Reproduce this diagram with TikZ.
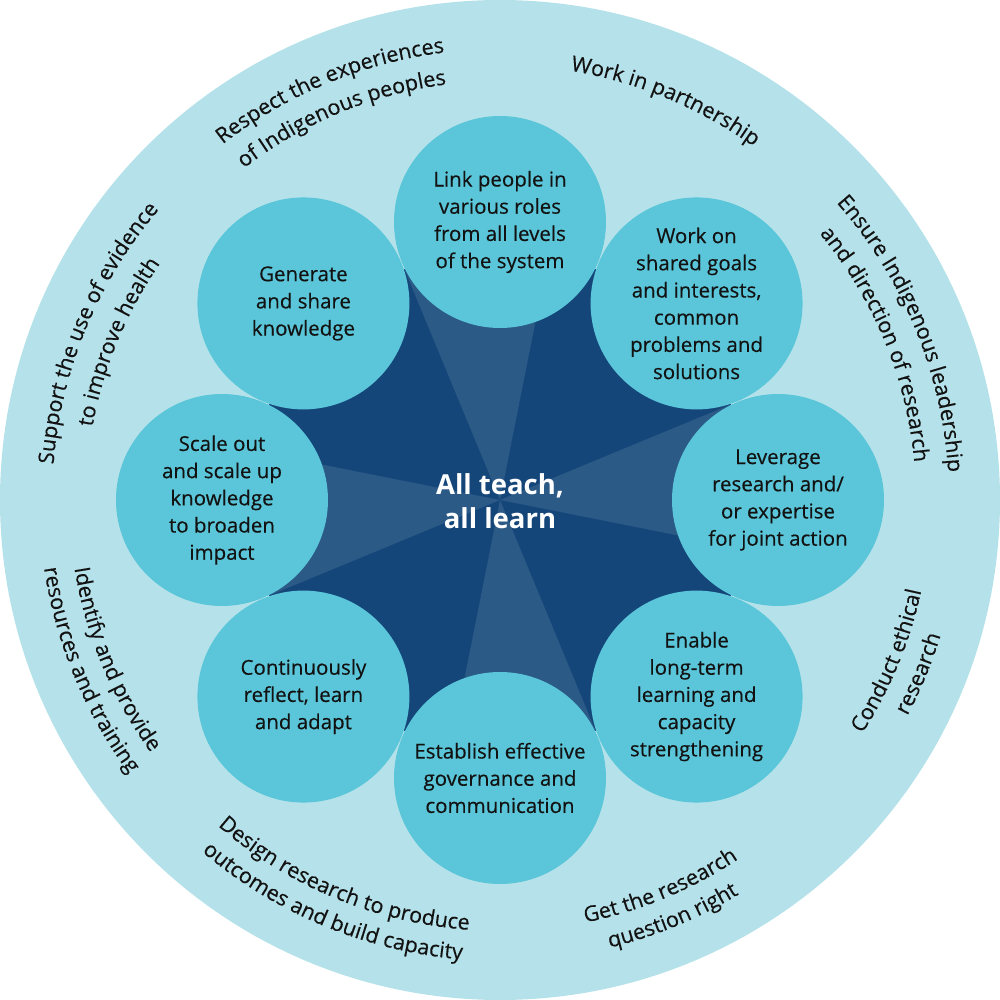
\documentclass[tikz,border=0pt]{standalone}
\usepackage{fontspec}
\setmainfont{Open Sans}
\newfontfamily\medfam{Open Sans}[FakeBold=0.35]
\usetikzlibrary{decorations.text}
\definecolor{ring}{HTML}{B5E2EA}
\definecolor{bubble}{HTML}{5BC6D9}
\definecolor{navy}{HTML}{15467A}
\definecolor{navylt}{HTML}{2C5A86}
\definecolor{ink}{HTML}{121212}
\newcommand{\bfs}{\medfam\fontsize{20.5}{27.2}\selectfont}
\newcommand{\ofs}{\medfam\fontsize{21.5}{26}\selectfont}
\newcommand{\toparc}[3]{%
  \path[decorate, decoration={text along path, text align=center, text color=ink, text={|\ofs|#3}}]
    (#1+50:#2) arc[start angle=#1+50, end angle=#1-50, radius=#2];}
\newcommand{\botarc}[3]{%
  \path[decorate, decoration={text along path, text align=center, text color=ink, text={|\ofs|#3}}]
    (#1-50:#2) arc[start angle=#1-50, end angle=#1+50, radius=#2];}
\begin{document}
\begin{tikzpicture}[x=1pt,y=1pt,
  bub/.style={circle, fill=bubble, minimum size=212pt, inner sep=0pt, align=center, text=ink, font=\bfs},
  hubtext/.style={text=white, align=center, font=\fontsize{27.5}{34}\selectfont\bfseries}]
\useasboundingbox (-500,-500) rectangle (500,500);
\fill[ring] (0,0) circle[radius=500];
% star
\fill[navy] (0:200) -- (22.5:250) -- (45:200) -- (67.5:250) -- (90:200) -- (112.5:250) -- (135:200) -- (157.5:250) -- (180:200) -- (202.5:250) -- (225:200) -- (247.5:250) -- (270:200) -- (292.5:250) -- (315:200) -- (337.5:250) -- cycle;
\foreach \a in {0,90,180,270}
  \fill[navylt] (0,0) -- (\a-11.25:215) -- (\a:200) -- (\a+22.5:250) -- cycle;
% bubbles
\node[bub] (b1) at (90:278) {Link people in\\various roles\\from all levels\\of the system};
\node[bub] (b2) at (45:278) {Work on\\shared goals\\and interests,\\common\\problems and\\solutions};
\node[bub] (b3) at (0:278) {Leverage\\research and/\\or expertise\\for joint action};
\node[bub] (b4) at (-45:278) {Enable\\long-term\\learning and\\capacity\\strengthening};
\node[bub] (b5) at (-90:278) {Establish effective\\governance and\\communication};
\node[bub] (b6) at (-135:278) {Continuously\\reflect, learn\\and adapt};
\node[bub] (b7) at (180:278) {Scale out\\and scale up\\knowledge\\to broaden\\impact};
\node[bub] (b8) at (135:278) {Generate\\and share\\knowledge};
\node[hubtext] (hub) at (0,-1) {All teach,\\all learn};
% outer ring labels
\toparc{112.5}{451}{Respect the experiences}
\toparc{112.5}{419}{of Indigenous peoples}
\toparc{67.5}{435}{Work in partnership}
\toparc{22.5}{449}{Ensure Indigenous leadership}
\toparc{22.5}{416}{and direction of research}
\toparc{157.5}{448}{Support the use of evidence}
\toparc{157.5}{414}{to improve health}
\botarc{-22.5}{431}{Conduct ethical}
\botarc{-22.5}{461}{research}
\botarc{-67.5}{431}{Get the research}
\botarc{-67.5}{461}{question right}
\botarc{-112.5}{431}{Design research to produce}
\botarc{-112.5}{461}{outcomes and build capacity}
\botarc{-157.5}{431}{Identify and provide}
\botarc{-157.5}{461}{resources and training}
\end{tikzpicture}
\end{document}
